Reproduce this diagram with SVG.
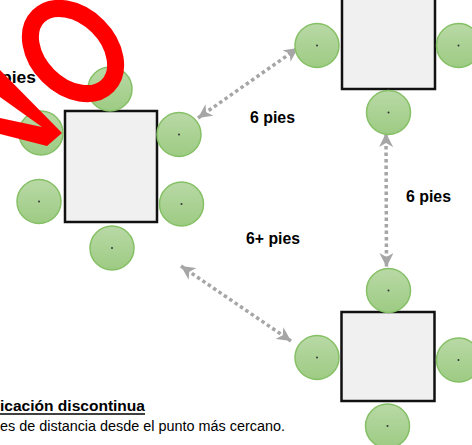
<svg xmlns="http://www.w3.org/2000/svg" width="472" height="445" viewBox="0 0 472 445">
<style>
.seat{fill:url(#g);stroke:#86c066;stroke-width:1.5}
.dot{fill:#333}
.tbl{fill:#f0f0f0;stroke:#111;stroke-width:2.5}
.lbl{font-family:"Liberation Sans",Arial,sans-serif;font-weight:bold;font-size:17px;fill:#000}
.conn{fill:none;stroke:#a6a6a6;stroke-width:3.5;stroke-dasharray:3.5 3}
.txt{font-family:"Liberation Sans",Arial,sans-serif;font-size:14px;fill:#000}
</style>
<defs>
<linearGradient id="g" x1="0" y1="0" x2="0" y2="1">
<stop offset="0" stop-color="#b9d9a6"/>
<stop offset="1" stop-color="#9dcb83"/>
</linearGradient>
<marker id="ah" markerUnits="userSpaceOnUse" markerWidth="15" markerHeight="14" refX="14" refY="7" orient="auto-start-reverse" viewBox="0 0 15 14">
<path d="M0,0 L14,7 L0,14 L4,7 Z" fill="#a6a6a6"/>
</marker>
</defs>
<rect width="472" height="445" fill="#fff"/>

<g id="connectors">
<line class="conn" x1="198" y1="118" x2="298" y2="48" marker-start="url(#ah)" marker-end="url(#ah)"/>
<line class="conn" x1="386" y1="133" x2="386.5" y2="267" marker-start="url(#ah)" marker-end="url(#ah)"/>
<line class="conn" x1="181" y1="266" x2="291" y2="341" marker-start="url(#ah)" marker-end="url(#ah)"/>
</g>

<g id="table1">
<rect class="tbl" x="65" y="111" width="92" height="111"/>
<circle class="seat" cx="110" cy="89" r="22"/><circle class="dot" cx="110" cy="89" r="1"/>
<circle class="seat" cx="41" cy="133" r="22"/><circle class="dot" cx="41" cy="133" r="1"/>
<circle class="seat" cx="179" cy="134.5" r="22"/><circle class="dot" cx="179" cy="134.5" r="1"/>
<circle class="seat" cx="39" cy="201.5" r="22"/><circle class="dot" cx="39" cy="201.5" r="1"/>
<circle class="seat" cx="181.5" cy="204" r="22"/><circle class="dot" cx="181.5" cy="204" r="1"/>
<circle class="seat" cx="112" cy="248" r="22"/><circle class="dot" cx="112" cy="248" r="1"/>
</g>

<g id="table2">
<rect class="tbl" x="342" y="-22" width="93" height="111"/>
<circle class="seat" cx="317" cy="45.5" r="22"/><circle class="dot" cx="317" cy="45.5" r="1"/>
<circle class="seat" cx="458.5" cy="45.5" r="22"/><circle class="dot" cx="458.5" cy="45.5" r="1"/>
<circle class="seat" cx="388.5" cy="112.5" r="22"/><circle class="dot" cx="388.5" cy="112.5" r="1"/>
</g>

<g id="table3">
<rect class="tbl" x="341.5" y="312" width="93" height="89"/>
<circle class="seat" cx="388.5" cy="290.5" r="22"/><circle class="dot" cx="388.5" cy="290.5" r="1"/>
<circle class="seat" cx="317" cy="357.5" r="22"/><circle class="dot" cx="317" cy="357.5" r="1"/>
<circle class="seat" cx="458.5" cy="360" r="22"/><circle class="dot" cx="458.5" cy="360" r="1"/>
<circle class="seat" cx="387.5" cy="426" r="22"/><circle class="dot" cx="387.5" cy="426" r="1"/>
</g>

<g id="labels">
<text class="lbl" x="250" y="123" textLength="45" lengthAdjust="spacingAndGlyphs">6 pies</text>
<text class="lbl" x="406" y="202" textLength="45" lengthAdjust="spacingAndGlyphs">6 pies</text>
<text class="lbl" x="246" y="244" textLength="54" lengthAdjust="spacingAndGlyphs">6+ pies</text>
<text class="lbl" x="1" y="83" textLength="35" lengthAdjust="spacingAndGlyphs">pies</text>
</g>

<g id="caption">
<text class="txt" x="0" y="411" font-weight="bold" font-size="15.5" textLength="145" lengthAdjust="spacingAndGlyphs">icación discontinua</text>
<line x1="0" y1="414" x2="145" y2="414" stroke="#000" stroke-width="1.4"/>
<text class="txt" x="0" y="431" font-size="14.5" textLength="285" lengthAdjust="spacingAndGlyphs">es de distancia desde el punto más cercano.</text>
</g>

<g id="annotation">
<ellipse cx="73" cy="51" rx="49" ry="35" transform="rotate(45 73 51)" fill="none" stroke="#ff0000" stroke-width="17"/>
<polygon points="0,70 62,133 47,146 0,134 0,118 42,127 0,97" fill="#ff0000"/>
</g>
</svg>
